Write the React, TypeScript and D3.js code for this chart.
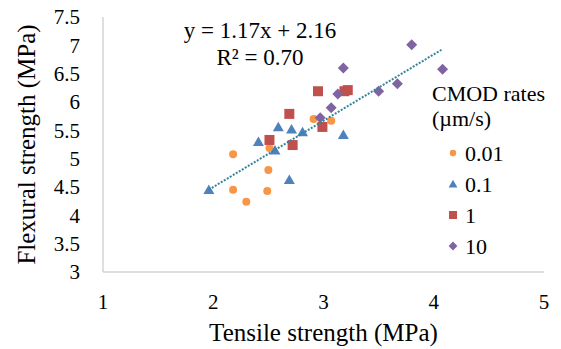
import React from "react";
import * as d3 from "d3";

// Tensile vs. flexural strength (MPa) grouped by CMOD rate
const rate001X = [2.18, 2.18, 2.30, 2.49, 2.50, 2.51, 2.91, 3.07];
const rate001Y = [5.08, 4.45, 4.24, 4.43, 4.80, 5.19, 5.70, 5.67];
const rate01X = [1.96, 2.41, 2.56, 2.59, 2.71, 2.81, 2.69, 3.18];
const rate01Y = [4.45, 5.30, 5.15, 5.56, 5.52, 5.47, 4.63, 5.42];
const rate1X = [2.51, 2.69, 2.72, 2.95, 2.99, 3.19, 3.22];
const rate1Y = [5.33, 5.79, 5.24, 6.19, 5.56, 6.19, 6.21];
const rate10X = [2.97, 3.07, 3.13, 3.18, 3.50, 3.67, 3.80, 4.08];
const rate10Y = [5.72, 5.90, 6.14, 6.60, 6.19, 6.32, 7.01, 6.58];

const seriesNames = ["0.01", "0.1", "1", "10"];
const seriesColors = ["#F79646", "#4F81BD", "#C0504D", "#8064A2"];
const seriesShapes = ["circle", "triangle", "square", "diamond"];

const xTicks = [1, 2, 3, 4, 5];
const yTicks = [3, 3.5, 4, 4.5, 5, 5.5, 6, 6.5, 7, 7.5];

const slope = 1.17;
const intercept = 2.16;
const equationText = "y = 1.17x + 2.16";
const r2Text = "R² = 0.70";

const W = 561;
const H = 349;
const plot = { left: 103, right: 544, top: 17, bottom: 272 };

const x = d3.scaleLinear().domain([1, 5]).range([plot.left, plot.right]);
const y = d3.scaleLinear().domain([3, 7.5]).range([plot.bottom, plot.top]);

const FONT = "'Liberation Serif', 'Times New Roman', serif";

function markerPath(shape: string, s: number): string {
  const h = s / 2;
  switch (shape) {
    case "circle": {
      const r = h * 0.8;
      return `M${r},0A${r},${r} 0 1,1 ${-r},0A${r},${r} 0 1,1 ${r},0Z`;
    }
    case "triangle":
      return `M0,${-h * 1.05}L${h * 1.1},${h * 0.85}L${-h * 1.1},${h * 0.85}Z`;
    case "square":
      return `M${-h},${-h}H${h}V${h}H${-h}Z`;
    default:
      return `M0,${-h * 1.1}L${h * 1.1},0L0,${h * 1.1}L${-h * 1.1},0Z`;
  }
}

export default function App() {
  const groups = [
    { xs: rate001X, ys: rate001Y },
    { xs: rate01X, ys: rate01Y },
    { xs: rate1X, ys: rate1Y },
    { xs: rate10X, ys: rate10Y },
  ];
  const allX = [...rate001X, ...rate01X, ...rate1X, ...rate10X];
  const [xMin, xMax] = d3.extent(allX) as [number, number];
  const trend = d3
    .line<number>()
    .x((v) => x(v))
    .y((v) => y(slope * v + intercept))([xMin, xMax]) as string;

  const legendX = 432;
  const legendItemY = [153, 184, 215, 246];

  return (
    <svg
      width={W}
      height={H}
      style={{ position: "absolute", left: 0, top: 0, background: "#fff" }}
      fontFamily={FONT}
    >
      {/* axes */}
      <line x1={plot.left} x2={plot.left} y1={plot.top} y2={plot.bottom} stroke="#BFBFBF" strokeWidth={1} />
      <line x1={plot.left} x2={plot.right} y1={plot.bottom} y2={plot.bottom} stroke="#BFBFBF" strokeWidth={1} />

      {yTicks.map((t) => (
        <text key={t} x={80} y={y(t)} dy="0.35em" textAnchor="end" fontSize={21} fill="#000">
          {t}
        </text>
      ))}
      {xTicks.map((t) => (
        <text key={t} x={x(t)} y={309} textAnchor="middle" fontSize={21} fill="#000">
          {t}
        </text>
      ))}

      <text x={(plot.left + plot.right) / 2} y={341} textAnchor="middle" fontSize={25} fill="#000">
        Tensile strength (MPa)
      </text>
      <text
        transform={`translate(35,${(plot.top + plot.bottom) / 2}) rotate(-90)`}
        textAnchor="middle"
        fontSize={25}
        fill="#000"
      >
        Flexural strength (MPa)
      </text>

      {/* markers */}
      {groups.map((g, gi) =>
        g.xs.map((xv, i) => (
          <path
            key={`${gi}-${i}`}
            d={markerPath(seriesShapes[gi], 10)}
            transform={`translate(${x(xv)},${y(g.ys[i])})`}
            fill={seriesColors[gi]}
          />
        ))
      )}

      {/* linear trendline */}
      <path d={trend} fill="none" stroke="#31849B" strokeWidth={2} strokeDasharray="2 1.5" />

      <text x={260} y={38} textAnchor="middle" fontSize={23} fill="#000">
        {equationText}
      </text>
      <text x={260} y={65} textAnchor="middle" fontSize={23} fill="#000">
        {r2Text}
      </text>

      {/* legend */}
      <text x={legendX} y={101} fontSize={22} fill="#000">CMOD rates</text>
      <text x={legendX} y={126} fontSize={22} fill="#000">(µm/s)</text>
      {seriesNames.map((n, i) => (
        <g key={n}>
          <path
            d={markerPath(seriesShapes[i], 8)}
            transform={`translate(453,${legendItemY[i]})`}
            fill={seriesColors[i]}
          />
          <text x={465} y={legendItemY[i]} dy="0.35em" fontSize={22} fill="#000">
            {n}
          </text>
        </g>
      ))}
    </svg>
  );
}
